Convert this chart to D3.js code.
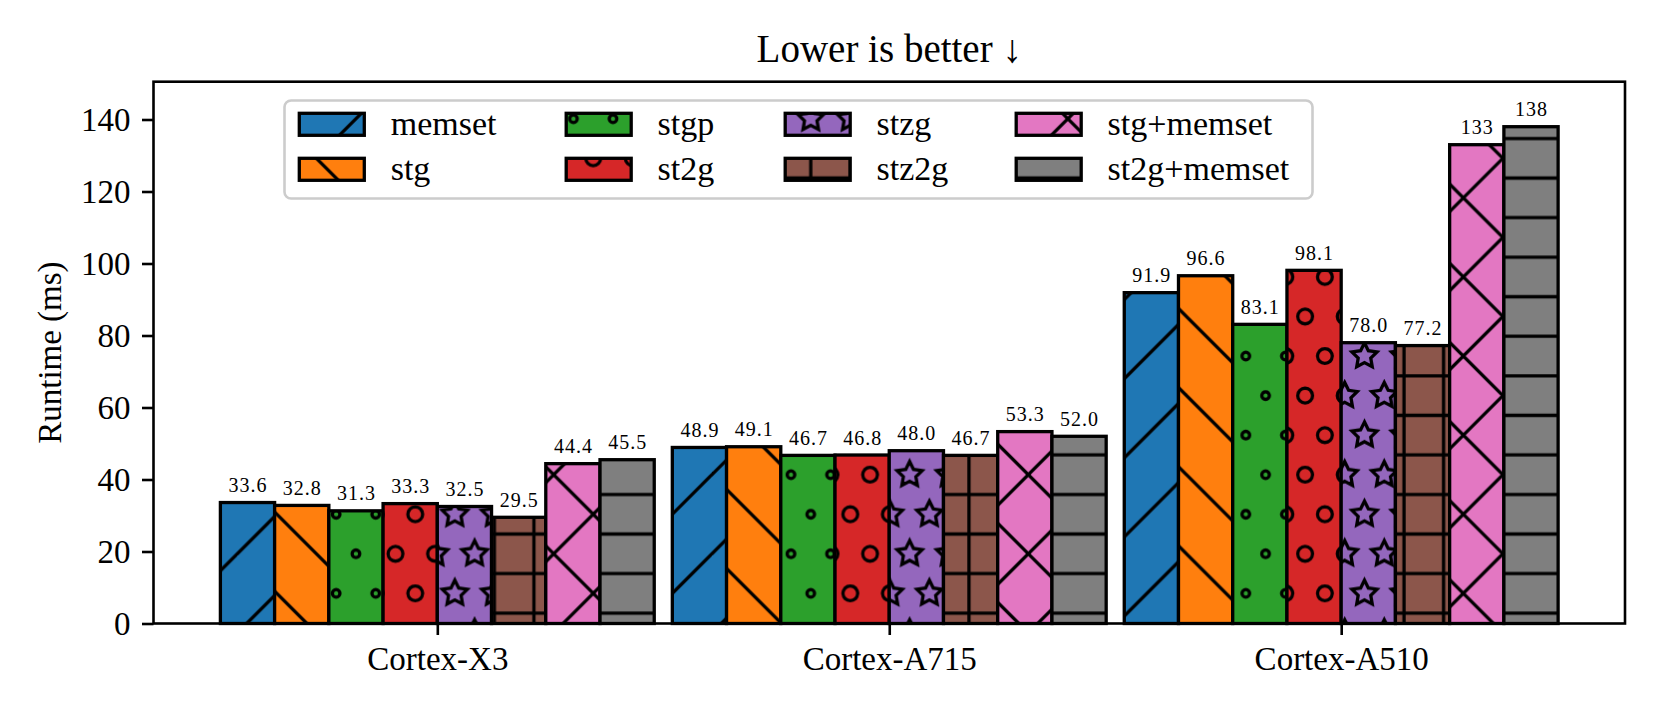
<!DOCTYPE html>
<html><head><meta charset="utf-8">
<script src="https://cdn.jsdelivr.net/npm/d3@7"></script>
<style>
body{margin:0;background:#fff}
svg{display:block}
text{font-family:"Liberation Serif","Times New Roman",serif;fill:#000}
</style>
</head><body>
<svg id="chart" width="1661" height="712"></svg>
<script>
// ---------------- data ----------------
const categories = ["Cortex-X3", "Cortex-A715", "Cortex-A510"];
const seriesNames = ["memset", "stg", "stgp", "st2g", "stzg", "stz2g", "stg+memset", "st2g+memset"];
const memsetValues      = [33.6, 48.9, 91.9];
const stgValues         = [32.8, 49.1, 96.6];
const stgpValues        = [31.3, 46.7, 83.1];
const st2gValues        = [33.3, 46.8, 98.1];
const stzgValues        = [32.5, 48.0, 78.0];
const stz2gValues       = [29.5, 46.7, 77.2];
const stgMemsetValues   = [44.4, 53.3, 133];
const st2gMemsetValues  = [45.5, 52.0, 138];
const seriesValues = [memsetValues, stgValues, stgpValues, st2gValues, stzgValues, stz2gValues, stgMemsetValues, st2gMemsetValues];
const seriesColors = ["#1f77b4", "#ff7f0e", "#2ca02c", "#d62728", "#9467bd", "#8c564b", "#e377c2", "#7f7f7f"];
const seriesHatches = ["/", "\\", "o", "O", "*", "+", "x", "-"];
const yTicks = [0, 20, 40, 60, 80, 100, 120, 140];
const titleText = "Lower is better \u2193";
const yLabelText = "Runtime (ms)";

// ---------------- layout ----------------
const W = 1661, H = 712;
const plot = {left: 153.5, right: 1625, top: 81.7, bottom: 623.5};
const barW = 0.12;
const T = 237.3;           // hatch tile size (px)
const hatchLW = 3.3, edgeLW = 3.3;

const svg = d3.select("#chart");
const x = d3.scaleLinear().domain([-0.628, 2.628]).range([plot.left, plot.right]);
const y = d3.scaleLinear().domain([0, 150.5]).range([plot.bottom, plot.top]);

// ---------------- hatch patterns ----------------
const defs = svg.append("defs");
function makePattern(id, hatch) {
  const p = defs.append("pattern").attr("id", id)
    .attr("patternUnits", "userSpaceOnUse")
    .attr("x", 0).attr("y", 0).attr("width", 1).attr("height", 1)
    .attr("patternTransform", `matrix(${T},0,0,${-T},0,${H})`);
  const sw = hatchLW / T;
  const line = (x1, y1, x2, y2) => p.append("path")
    .attr("d", `M${x1},${y1}L${x2},${y2}`)
    .attr("stroke", "#000").attr("stroke-width", sw)
    .attr("stroke-linecap", "square").attr("fill", "none");
  const n = 6;
  const steps = d3.range(n + 1).map(k => -0.5 + k / n);
  if (hatch === "/" || hatch === "x") steps.forEach(s => line(s, -s, 1 + s, 1 - s));
  if (hatch === "\\" || hatch === "x") steps.forEach(s => line(s, 1 + s, 1 + s, s));
  if (hatch === "-" || hatch === "+") d3.range(n).forEach(k => line(0, (k + 0.5) / n, 1, (k + 0.5) / n));
  if (hatch === "+") d3.range(n).forEach(k => line((k + 0.5) / n, 0, (k + 0.5) / n, 1));
  if (hatch === "o" || hatch === "O" || hatch === "*") {
    const off = 1 / n;
    // shape radius in tile units
    const r = hatch === "o" ? 3.8 / T : hatch === "O" ? 7.4 / T : off / 3;
    for (let row = 0; row <= n; row++) {
      const cols = row % 2 === 0 ? d3.range(n + 1).map(k => k / n) : d3.range(n).map(k => off / 2 + k * off);
      cols.forEach(cx => {
        const cy = row * off;
        if (hatch === "*") {
          const pts = d3.range(10).map(i => {
            const a = Math.PI / 2 + i * Math.PI / 5;
            const rr = i % 2 === 0 ? r : r * 0.5;
            return [cx + rr * Math.cos(a), cy + rr * Math.sin(a)];
          });
          p.append("path").attr("d", "M" + pts.map(q => q.join(",")).join("L") + "Z")
            .attr("fill", "none").attr("stroke", "#000").attr("stroke-width", sw)
            .attr("stroke-linejoin", "miter");
        } else {
          p.append("circle").attr("cx", cx).attr("cy", cy).attr("r", r)
            .attr("fill", "none").attr("stroke", "#000").attr("stroke-width", sw);
        }
      });
    }
  }
}
seriesHatches.forEach((h, i) => makePattern("hatch" + i, h));

// ---------------- bars ----------------
const barsLayer = svg.append("g");
seriesValues.forEach((vals, i) => {
  const data = vals.map((v, j) => ({v, j}));
  const xl = d => x(d.j + (i - 3.5) * barW - barW / 2);
  const wd = d => x(d.j + (i - 3.5) * barW + barW / 2) - xl(d);
  const g = barsLayer.append("g");
  g.selectAll("rect.f").data(data).join("rect").attr("class", "f")
    .attr("x", xl).attr("y", d => y(d.v)).attr("width", wd).attr("height", d => y(0) - y(d.v))
    .attr("fill", seriesColors[i]);
  g.selectAll("rect.h").data(data).join("rect").attr("class", "h")
    .attr("x", xl).attr("y", d => y(d.v)).attr("width", wd).attr("height", d => y(0) - y(d.v))
    .attr("fill", `url(#hatch${i})`);
  g.selectAll("rect.e").data(data).join("rect").attr("class", "e")
    .attr("x", xl).attr("y", d => y(d.v)).attr("width", wd).attr("height", d => y(0) - y(d.v))
    .attr("fill", "none").attr("stroke", "#000").attr("stroke-width", edgeLW);
});
// value labels
const fmt = d3.format(".3g");
seriesValues.forEach((vals, i) => {
  svg.append("g").selectAll("text").data(vals).join("text")
    .attr("x", (v, j) => x(j + (i - 3.5) * barW) + 0.5)
    .attr("y", v => y(v) - 10.5)
    .attr("text-anchor", "middle")
    .style("font-size", "20px").style("letter-spacing", "1px")
    .text(v => fmt(v));
});

// ---------------- axes ----------------
const yAxis = svg.append("g").attr("transform", `translate(${plot.left},0)`)
  .call(d3.axisLeft(y).tickValues(yTicks).tickSize(11.5).tickPadding(11.5).tickFormat(d3.format("d")));
const xAxis = svg.append("g").attr("transform", `translate(0,${plot.bottom})`)
  .call(d3.axisBottom(x).tickValues([0, 1, 2]).tickSize(11.5).tickPadding(11.5).tickFormat(j => categories[j]));
[yAxis, xAxis].forEach(a => {
  a.select(".domain").remove();
  a.selectAll(".tick line").attr("stroke", "#000").attr("stroke-width", 2.6);
  a.selectAll(".tick text").style("font-size", "33px").style("font-family", '"Liberation Serif",serif').attr("fill", "#000");
});
svg.append("rect").attr("x", plot.left).attr("y", plot.top)
  .attr("width", plot.right - plot.left).attr("height", plot.bottom - plot.top)
  .attr("fill", "none").attr("stroke", "#000").attr("stroke-width", 2.6);

// title & y label
svg.append("text").attr("x", (plot.left + plot.right) / 2).attr("y", 62)
  .attr("text-anchor", "middle").style("font-size", "39px").text(titleText);
svg.append("text").attr("transform", `translate(61,${(plot.top + plot.bottom) / 2}) rotate(-90)`)
  .attr("text-anchor", "middle").style("font-size", "33px").text(yLabelText);

// ---------------- legend ----------------
const leg = {x: 284.5, y: 100.5, w: 1028, h: 98};
svg.append("rect").attr("x", leg.x).attr("y", leg.y).attr("width", leg.w).attr("height", leg.h)
  .attr("rx", 6.6).attr("ry", 6.6)
  .attr("fill", "#fff").attr("fill-opacity", 0.8).attr("stroke", "#cccccc").attr("stroke-width", 2.6);
const legCols = [299.3, 566.2, 785.2, 1016.2];
const legRows = [113.3, 158.3];
const patchW = 65, patchH = 22;
seriesNames.forEach((name, i) => {
  const px = legCols[Math.floor(i / 2)], py = legRows[i % 2];
  svg.append("rect").attr("x", px).attr("y", py).attr("width", patchW).attr("height", patchH).attr("fill", seriesColors[i]);
  svg.append("rect").attr("x", px).attr("y", py).attr("width", patchW).attr("height", patchH).attr("fill", `url(#hatch${i})`);
  svg.append("rect").attr("x", px).attr("y", py).attr("width", patchW).attr("height", patchH)
    .attr("fill", "none").attr("stroke", "#000").attr("stroke-width", edgeLW);
  svg.append("text").attr("x", px + patchW + 26.4).attr("y", py + patchH - 0.5)
    .style("font-size", "34px").text(name);
});
</script>
</body></html>
